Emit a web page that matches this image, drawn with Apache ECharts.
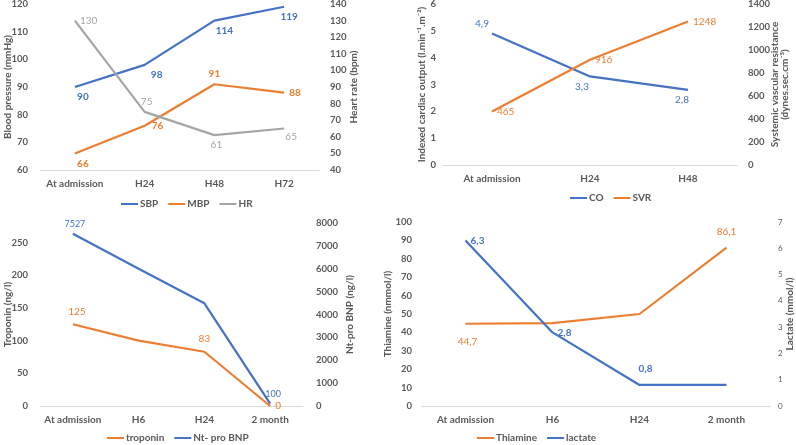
<!DOCTYPE html>
<html><head><meta charset="utf-8">
<script src="https://cdn.jsdelivr.net/npm/echarts@6/dist/echarts.min.js"></script>
<style>html,body{margin:0;padding:0;background:#fff}#c{width:796px;height:445px}</style>
</head><body><div id="c"></div>
<script>
// ---- data ----
const cat1 = ['At admission', 'H24', 'H48', 'H72'];
const sbp = [90, 98, 114, 119];
const mbp = [66, 76, 91, 88];
const hr = [130, 75, 61, 65];

const cat2 = ['At admission', 'H24', 'H48'];
const co = [4.9, 3.3, 2.8];
const svr = [465, 916, 1248];

const cat3 = ['At admission', 'H6', 'H24', '2 month'];
const troponin = [125, 100, 83, 0];
const ntProBnp = [7527, 6000, 4490, 100];

const cat4 = ['At admission', 'H6', 'H24', '2 month'];
const thiamine = [44.7, 45, 50, 86.1];
const lactate = [6.3, 2.8, 0.8, 0.8];

// ---- styles ----
const BLUE = '#4472C4', ORANGE = '#ED7D31', GRAY = '#A5A5A5', TXT = '#595959';
const FONT = 'Lato';

// label placement per point: [position, offset] or null (no label)
const lblSbp = [['bottom', [8, 0]], ['bottom', [12, 0]], ['bottom', [10, 0]], ['bottom', [5, 0]]];
const lblMbp = [['bottom', [8, 0]], ['right', [2, 0]], ['top', [0, 0]], ['right', [0, 0]]];
const lblHr = [['right', [0, 0]], ['top', [2, 0]], ['bottom', [2, 0]], ['bottom', [7, -2]]];
const lblCo = [['top', [-10, 0]], ['bottom', [-8, 0]], ['bottom', [-6, 0]]];
const lblSvr = [['right', [0, 0]], ['right', [0, 0]], ['right', [0, 0]]];
const lblTrop = [['top', [4, -3]], null, ['top', [0, -3]], ['right', [0, 0]]];
const lblBnp = [['top', [2, 0]], null, null, ['top', [3, 0]]];
const lblThia = [['bottom', [2, 8]], null, null, ['top', [0, -6]]];
const lblLac = [['right', [0, 0]], ['right', [0, 0]], ['top', [6, -6]], null];

const comma = p => String(p.value).replace('.', ',');
const plain = v => String(v);

function pts(values, specs, color, bold, size) {
  return values.map((v, i) => {
    const s = specs[i];
    return {
      value: v,
      label: s ? {show: true, position: s[0], offset: s[1], color: color, fontSize: size || 10,
                  fontWeight: bold ? 'bold' : 'normal', fontFamily: FONT, formatter: comma}
               : {show: false}
    };
  });
}

function line(name, values, specs, color, xi, yi, lblColor, bold, size) {
  return {
    name: name, type: 'line', xAxisIndex: xi, yAxisIndex: yi,
    symbol: 'circle', symbolSize: 0, showSymbol: true,
    color: color,
    lineStyle: {width: 2.2, color: color}, itemStyle: {color: color},
    label: {show: true},
    data: pts(values, specs, lblColor || color, bold, size), z: 3
  };
}

function xAx(gi, data, fs) {
  return {
    type: 'category', gridIndex: gi, data: data, boundaryGap: true,
    axisTick: {show: false}, axisLine: {lineStyle: {color: '#D9D9D9', width: 1}},
    axisLabel: {color: TXT, fontSize: fs || 10, fontWeight: 'bold', fontFamily: FONT, margin: 9, interval: 0}
  };
}

function yAx(gi, pos, min, max, interval, name, gap, margin, opts) {
  opts = opts || {};
  return {
    type: 'value', gridIndex: gi, position: pos, min: min, max: max, interval: interval,
    splitLine: {show: false}, axisLine: {show: false}, axisTick: {show: false},
    axisLabel: {color: TXT, fontSize: opts.fs || 9.5, fontWeight: opts.normal ? 'normal' : 'bold',
                fontFamily: FONT, margin: margin, showMaxLabel: opts.hideMax ? false : true, formatter: plain},
    name: name, nameLocation: 'middle', nameRotate: 90, nameGap: gap, nameMoveOverlap: false,
    nameTextStyle: {color: TXT, fontSize: opts.nfs || 10, fontWeight: 'bold', fontFamily: FONT, align: 'center', lineHeight: 10}
  };
}

function legend(names, left, top) {
  return {
    data: names, left: left, top: top, padding: 0, icon: 'rect', itemWidth: 17, itemHeight: 2, itemGap: 10,
    textStyle: {color: TXT, fontSize: 10, fontWeight: 'bold', fontFamily: FONT, padding: [0, 0, 0, -3]},
    selectedMode: false
  };
}

function grid(left, top, width, height) {
  return {left: left, top: top, width: width, height: height, containLabel: false, outerBoundsMode: 'none'};
}

const chart = echarts.init(document.getElementById('c'), null, {renderer: 'canvas'});
chart.setOption({
  animation: false,
  backgroundColor: '#ffffff',
  grid: [
    grid(40, 4, 279, 166),
    grid(443, 4, 294, 161),
    grid(40, 223, 263, 183),
    grid(422, 222, 348, 184)
  ],
  xAxis: [xAx(0, cat1), xAx(1, cat2), xAx(2, cat3), xAx(3, cat4)],
  yAxis: [
    yAx(0, 'left', 60, 120, 10, 'Blood pressure (mmHg)', 27, 12),
    yAx(0, 'right', 40, 140, 10, 'Heart rate (bpm)', 30, 11),
    yAx(1, 'left', 0, 6, 1, 'Indexed cardiac output (l.min\u207B\u00B9.m\u207B\u00B2)', 16, 7),
    yAx(1, 'right', 0, 1400, 200, 'Systemic vascular resistance\n(dynes.sec.cm\u207B\u2075)', 33, 11),
    yAx(2, 'left', 0, 280, 50, 'Troponin (ng/l)', 27, 12, {hideMax: true}),
    yAx(2, 'right', 0, 8000, 1000, 'Nt-pro BNP (ng/l)', 42, 13),
    yAx(3, 'left', 0, 100, 10, 'Thiamine (nmmol/l)', 29, 10),
    yAx(3, 'right', 0, 7, 1, 'Lactate (mmol/l)', 15, 8, {fs: 8, normal: true, nfs: 10})
  ],
  legend: [
    legend(['SBP', 'MBP', 'HR'], 121, 199),
    legend(['CO', 'SVR'], 570, 193),
    legend(['troponin', 'Nt- pro BNP'], 107, 433),
    legend(['Thiamine', 'lactate'], 477, 433)
  ],
  series: [
    line('SBP', sbp, lblSbp, BLUE, 0, 0, '#4472C4', true, 10),
    line('MBP', mbp, lblMbp, ORANGE, 0, 0, '#ED7D31', true, 10),
    line('HR', hr, lblHr, GRAY, 0, 1, '#A5A5A5', false, 10),
    line('CO', co, lblCo, BLUE, 1, 2, '#4472C4', false, 10),
    line('SVR', svr, lblSvr, ORANGE, 1, 3, '#ED7D31', false, 10),
    line('troponin', troponin, lblTrop, ORANGE, 2, 4, '#ED7D31', false, 10),
    line('Nt- pro BNP', ntProBnp, lblBnp, BLUE, 2, 5, '#4472C4', false, 9),
    line('Thiamine', thiamine, lblThia, ORANGE, 3, 6, '#ED7D31', false, 10),
    line('lactate', lactate, lblLac, BLUE, 3, 7, '#4472C4', true, 10)
  ]
});
</script>
</body></html>
